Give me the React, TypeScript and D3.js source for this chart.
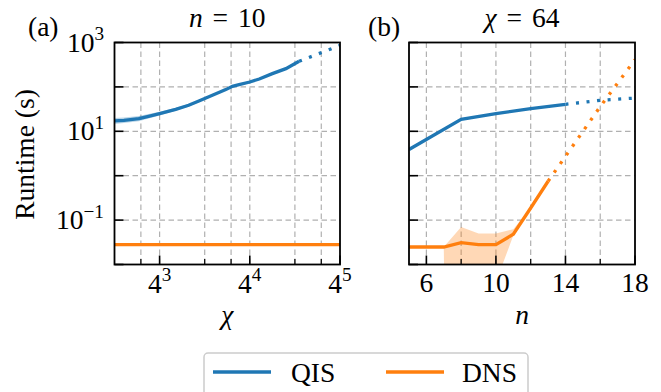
import React from 'react';
import * as d3 from 'd3';

// ---------- Data ----------
// Panel (a): n = 10, runtime vs bond dimension chi (log base 4)
const chiA = [32, 37, 46.5, 54, 64, 82, 100, 117, 144, 177, 196, 217, 256, 296, 362, 446, 546];
const qisA = [17.1, 17.7, 19.3, 21.8, 25.1, 31.3, 38.5, 48.1, 64.7, 86.9, 103, 113, 129, 151, 199, 258, 378];
const qisALo = [14.6, 15.3, 16.9, 19.5, 22.8, 29.0, 36.0, 45.4, 61.6, 83.6, 100, 110, 125, 148, 195, 253, 371];
const qisAHi = [20.0, 20.5, 22.0, 24.4, 27.6, 33.8, 41.2, 51.0, 67.9, 90.4, 106, 116, 133, 154, 203, 263, 386];
const chiADot = [546, 1024];
const qisADot = [378, 860];
const chiADns = [32, 1024];
const dnsA = [0.028, 0.028];

// Panel (b): chi = 64, runtime vs n
const nB = [5, 8, 10, 12, 14];
const qisB = [3.9, 18.6, 25, 32.5, 40.5];
const nBDot = [14, 16, 18];
const qisBDot = [40.5, 50, 56];
const nDns = [5, 6, 7, 8, 9, 10, 11, 12, 13];
const dnsB = [0.0248, 0.0248, 0.0248, 0.031, 0.028, 0.028, 0.048, 0.187, 0.75];
const dnsBLo = [0.0248, 0.0248, 0.0248, 1e-30, 1e-30, 0.004, 0.045, 0.187, 0.75];
const dnsBHi = [0.0248, 0.0248, 0.0248, 0.07, 0.05, 0.05, 0.062, 0.187, 0.75];
const nDnsDot = [13, 16, 18];
const dnsBDot = [0.75, 36, 410];

// Ticks
const yDecades = [1e-2, 1e-1, 1, 10, 100, 1000];
const yLabelExp = [3, 1, -1];
const xAMajor = [64, 256, 1024];
const xAMajorExp = [3, 4, 5];
const xAMinor = [48, 128, 192, 512, 768];
const xBMajor = [6, 10, 14, 18];
const xBMinor = [8, 12, 16];

const BLUE = '#1f77b4';
const ORANGE = '#ff7f0e';
const FS = 27.5;
const TXT = { fontFamily: 'Liberation Serif', fontSize: FS, fill: '#000' };

const top = 42.5, bottom = 264.5;
const aL = 114.5, aR = 340;
const bL = 409, bR = 635;

const y = d3.scaleLog().domain([1e-2, 1e3]).range([bottom, top]);
const xA = d3.scaleLog().base(4).domain([32, 1024]).range([aL, aR]);
const xB = d3.scaleLinear().domain([5, 18]).range([bL, bR]);

function lineOf(xs: number[], ys: number[], sx: (v: number) => number) {
  const pts: [number, number][] = xs.map((v, i) => [sx(v), y(ys[i])]);
  return d3.line()(pts) || '';
}
function areaOf(xs: number[], lo: number[], hi: number[], sx: (v: number) => number) {
  const pts = xs.map((v, i) => ({ x: sx(v), lo: y(lo[i]), hi: y(hi[i]) }));
  return (
    d3
      .area<{ x: number; lo: number; hi: number }>()
      .x((d) => d.x)
      .y0((d) => d.lo)
      .y1((d) => d.hi)(pts) || ''
  );
}

const GRID = { stroke: '#b0b0b0', strokeWidth: 1.2, strokeDasharray: '5.5,3.5' };
const DOT = '3,7.6';
const LW = 3.3;

function Sup({ base, exp }: { base: string; exp: string }) {
  return (
    <>
      <tspan>{base}</tspan>
      <tspan dy={-0.42 * FS} fontSize={FS * 0.7}>
        {exp}
      </tspan>
    </>
  );
}

export default function App() {
  return (
    <svg width={661} height={392} style={{ position: 'absolute', left: 0, top: 0, background: '#fff' }}>
      <defs>
        <clipPath id="clipA">
          <rect x={aL} y={top} width={aR - aL} height={bottom - top} />
        </clipPath>
        <clipPath id="clipB">
          <rect x={bL} y={top} width={bR - bL} height={bottom - top} />
        </clipPath>
      </defs>

      {/* ---------- Panel (a) ---------- */}
      <g>
        {yDecades.slice(1, -1).map((d) => (
          <line key={'gya' + d} x1={aL} x2={aR} y1={y(d)} y2={y(d)} {...GRID} />
        ))}
        {[...xAMinor, ...xAMajor.slice(0, -1)].map((d) => (
          <line key={'gxa' + d} x1={xA(d)} x2={xA(d)} y1={top} y2={bottom} {...GRID} />
        ))}
        <g clipPath="url(#clipA)">
          <path d={areaOf(chiA, qisALo, qisAHi, xA)} fill={BLUE} fillOpacity={0.3} />
          <path d={lineOf(chiA, qisA, xA)} fill="none" stroke={BLUE} strokeWidth={LW} />
          <path d={lineOf(chiADot, qisADot, xA)} fill="none" stroke={BLUE} strokeWidth={LW} strokeDasharray={DOT} />
          <path d={lineOf(chiADns, dnsA, xA)} fill="none" stroke={ORANGE} strokeWidth={LW} />
        </g>
        {yDecades.map((d) => (
          <line key={'tya' + d} x1={aL} x2={aL + 9} y1={y(d)} y2={y(d)} stroke="#000" strokeWidth={1.6} />
        ))}
        {xAMajor.map((d) => (
          <line key={'txa' + d} x1={xA(d)} x2={xA(d)} y1={bottom} y2={bottom - 9} stroke="#000" strokeWidth={1.6} />
        ))}
        {xAMinor.map((d) => (
          <line key={'txm' + d} x1={xA(d)} x2={xA(d)} y1={bottom} y2={bottom - 5.5} stroke="#000" strokeWidth={1.2} />
        ))}
        <rect x={aL} y={top} width={aR - aL} height={bottom - top} fill="none" stroke="#000" strokeWidth={1.8} />
        {yLabelExp.map((e) => (
          <text key={'lya' + e} {...TXT} x={104} y={y(Math.pow(10, e)) + 9} textAnchor="end">
            <Sup base="10" exp={e < 0 ? '\u2212' + Math.abs(e) : String(e)} />
          </text>
        ))}
        {xAMajor.map((d, i) => (
          <text key={'lxa' + d} {...TXT} x={xA(d)} y={293} textAnchor="middle">
            <Sup base="4" exp={String(xAMajorExp[i])} />
          </text>
        ))}
        <text {...TXT} x={(aL + aR) / 2} y={324} textAnchor="middle" fontStyle="italic">
          χ
        </text>
        <text {...TXT} transform={`translate(33.5,${(top + bottom) / 2 + 1}) rotate(-90)`} textAnchor="middle">
          Runtime (s)
        </text>
        <text {...TXT} x={28} y={35.5}>
          (a)
        </text>
        <text {...TXT} x={(aL + aR) / 2} y={27} textAnchor="middle">
          <tspan fontStyle="italic">n</tspan>
          <tspan dx={3}> = </tspan>
          <tspan dx={3}>10</tspan>
        </text>
      </g>

      {/* ---------- Panel (b) ---------- */}
      <g>
        {yDecades.slice(1, -1).map((d) => (
          <line key={'gyb' + d} x1={bL} x2={bR} y1={y(d)} y2={y(d)} {...GRID} />
        ))}
        {[...xBMajor.slice(0, -1), ...xBMinor].map((d) => (
          <line key={'gxb' + d} x1={xB(d)} x2={xB(d)} y1={top} y2={bottom} {...GRID} />
        ))}
        <g clipPath="url(#clipB)">
          <path d={areaOf(nDns, dnsBLo, dnsBHi, xB)} fill={ORANGE} fillOpacity={0.3} />
          <path d={lineOf(nB, qisB, xB)} fill="none" stroke={BLUE} strokeWidth={LW} />
          <path d={lineOf(nBDot, qisBDot, xB)} fill="none" stroke={BLUE} strokeWidth={LW} strokeDasharray={DOT} />
          <path d={lineOf(nDns, dnsB, xB)} fill="none" stroke={ORANGE} strokeWidth={LW} />
          <path d={lineOf(nDnsDot, dnsBDot, xB)} fill="none" stroke={ORANGE} strokeWidth={LW} strokeDasharray={DOT} />
        </g>
        {yDecades.map((d) => (
          <line key={'tyb' + d} x1={bL} x2={bL + 9} y1={y(d)} y2={y(d)} stroke="#000" strokeWidth={1.6} />
        ))}
        {xBMajor.map((d) => (
          <line key={'txb' + d} x1={xB(d)} x2={xB(d)} y1={bottom} y2={bottom - 9} stroke="#000" strokeWidth={1.6} />
        ))}
        {xBMinor.map((d) => (
          <line key={'txbm' + d} x1={xB(d)} x2={xB(d)} y1={bottom} y2={bottom - 5.5} stroke="#000" strokeWidth={1.2} />
        ))}
        <rect x={bL} y={top} width={bR - bL} height={bottom - top} fill="none" stroke="#000" strokeWidth={1.8} />
        {xBMajor.map((d) => (
          <text key={'lxb' + d} {...TXT} x={xB(d)} y={292} textAnchor="middle">
            {d}
          </text>
        ))}
        <text {...TXT} x={(bL + bR) / 2} y={324} textAnchor="middle" fontStyle="italic">
          n
        </text>
        <text {...TXT} x={368} y={35.5}>
          (b)
        </text>
        <text {...TXT} x={(bL + bR) / 2} y={27} textAnchor="middle">
          <tspan fontStyle="italic">χ</tspan>
          <tspan dx={3}> = </tspan>
          <tspan dx={3}>64</tspan>
        </text>
      </g>

      {/* ---------- Legend ---------- */}
      <g>
        <rect x={204} y={353} width={324} height={60} rx={4} fill="#fff" stroke="#cccccc" strokeWidth={1.5} />
        <line x1={213} x2={271} y1={372} y2={372} stroke={BLUE} strokeWidth={LW} />
        <text {...TXT} x={291} y={382}>
          QIS
        </text>
        <line x1={386} x2={444} y1={372} y2={372} stroke={ORANGE} strokeWidth={LW} />
        <text {...TXT} x={462} y={382}>
          DNS
        </text>
      </g>
    </svg>
  );
}
